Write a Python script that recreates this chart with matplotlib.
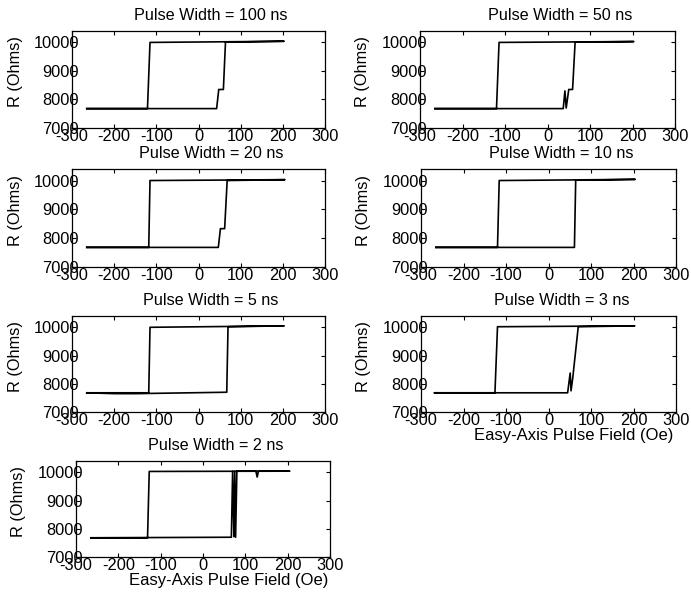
import matplotlib
matplotlib.use("Agg")
import matplotlib.pyplot as plt

plt.rcParams["font.family"] = ["Liberation Sans", "DejaVu Sans"]
plt.rcParams["axes.unicode_minus"] = False

# Hysteresis loops: resistance vs easy-axis pulse field for several pulse widths.
# Each trace runs forward from -265 Oe up to ~200 Oe, then sweeps back down.
titles = ["Pulse Width = 100 ns", "Pulse Width = 50 ns", "Pulse Width = 20 ns",
          "Pulse Width = 10 ns", "Pulse Width = 5 ns", "Pulse Width = 3 ns",
          "Pulse Width = 2 ns"]

field_100 = [-265, 43, 48, 59, 64, 203, 203, -115, -121, -265]
res_100 = [7680, 7680, 8350, 8350, 10010, 10040, 10040, 10000, 7680, 7680]

field_50 = [-265, 37, 41, 44, 50, 59, 65, 203, 203, -114, -120, -265]
res_50 = [7680, 7680, 8300, 7700, 8350, 8350, 10010, 10030, 10030, 10000, 7680, 7680]

field_20 = [-265, 47, 52, 62, 68, 205, 205, -115, -118, -265]
res_20 = [7680, 7680, 8330, 8330, 10000, 10030, 10030, 10000, 7680, 7680]

field_10 = [-265, 61, 64, 204, 204, -116, -120, -265]
res_10 = [7680, 7680, 10010, 10040, 10040, 10000, 7680, 7680]

field_5 = [-265, -200, -150, 67, 70, 203, 203, -115, -118, -265]
res_5 = [7680, 7650, 7650, 7700, 10020, 10050, 10050, 10000, 7680, 7680]

field_3 = [-268, 45, 51, 53, 57, 70, 203, 203, -120, -126, -268]
res_3 = [7680, 7680, 8380, 7750, 8200, 10020, 10050, 10050, 10020, 7680, 7680]

field_2 = [-265, 67, 70, 73, 75, 77, 80, 125, 128, 131, 205, 205, -127, -131, -265]
res_2 = [7680, 7700, 10030, 7720, 10030, 7700, 10040, 10040, 9830, 10040, 10040,
         10040, 10030, 7680, 7680]

fields = [field_100, field_50, field_20, field_10, field_5, field_3, field_2]
resists = [res_100, res_50, res_20, res_10, res_5, res_3, res_2]

x_ticks = [-300, -200, -100, 0, 100, 200, 300]
y_ticks = [7000, 8000, 9000, 10000]

W, H = 691, 595
fig = plt.figure(figsize=(W / 100, H / 100), dpi=100)

# axes boxes in pixels: left, top, right, bottom
boxes = [
    (72, 31, 325, 128), (420, 31, 675, 128),
    (72, 169, 325, 267), (421, 169, 676, 267),
    (72, 316, 325, 412), (421, 316, 676, 412),
    (76, 461, 330, 557),
]
bottom_panels = {5, 6}

for i, (l, t, r, b) in enumerate(boxes):
    ax = fig.add_axes([l / W, 1 - b / H, (r - l) / W, (b - t) / H])
    ax.plot(fields[i], resists[i], color="black", lw=1.2)
    ax.set_xlim(-300, 300)
    ax.set_ylim(7000, 10400)
    ax.set_xticks(x_ticks)
    ax.set_yticks(y_ticks)
    ax.tick_params(direction="in", length=3, width=0.8, top=True, right=True,
                   labelsize=11.8)
    ax.tick_params(axis="y", pad=-5)
    ax.tick_params(axis="x", pad=1)
    for s in ax.spines.values():
        s.set_linewidth(0.9)
    ax.set_title(titles[i], fontsize=11.6, x=0.55, pad=8)
    ax.set_ylabel("R (Ohms)", fontsize=11.8)
    ax.yaxis.set_label_coords(-0.195, 0.58)
    if i in bottom_panels:
        ax.set_xlabel("Easy-Axis Pulse Field (Oe)", fontsize=12)
        ax.xaxis.set_label_coords(0.6, -0.17)

fig.savefig("out.png", dpi=100)
